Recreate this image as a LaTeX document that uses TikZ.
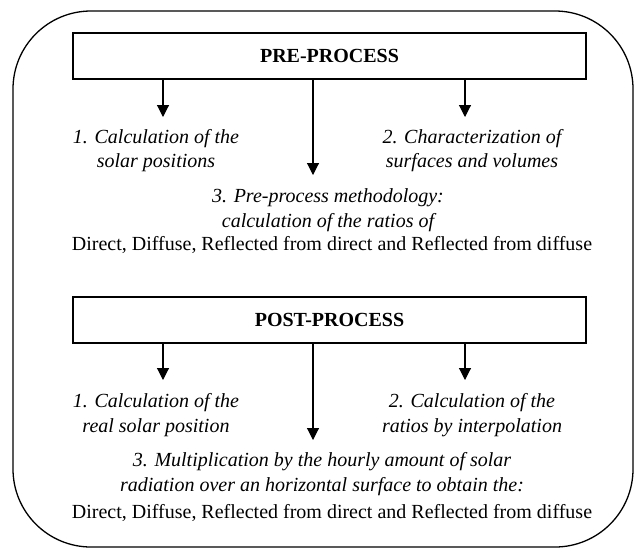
\documentclass[tikz,border=0pt]{standalone}
\usepackage{fontspec}
\setmainfont{Liberation Serif}
\usetikzlibrary{positioning,arrows.meta}

\begin{document}
\begin{tikzpicture}[x=1pt, y=-1pt,
    procbox/.style={draw, line width=1.6pt, minimum width=513pt, minimum height=46pt,
        font=\fontsize{20}{24}\selectfont\bfseries},
    itemtext/.style={align=center, inner sep=0pt, font=\fontsize{20}{24.5}\selectfont\itshape},
    ratiotext/.style={inner sep=0pt, font=\fontsize{20}{24}\selectfont},
    arr/.style={-{Triangle[width=12pt,length=12pt]}, line width=1.1pt}]

    \useasboundingbox (0,0) rectangle (635,550);

    % Outer frame
    \draw[line width=1.3pt, rounded corners=78pt] (13,11) rectangle (633,547);

    % Pre-process block
    \node[procbox] (pre) at (329.5,56) {PRE-PROCESS};
    \coordinate (preL) at (163,117);
    \coordinate (preM) at (313,175);
    \coordinate (preR) at (465,117);
    \draw[arr] (pre.south -| preL) -- (preL);
    \draw[arr] (pre.south -| preM) -- (preM);
    \draw[arr] (pre.south -| preR) -- (preR);

    \node[itemtext] (preOne) at (156,150.5) {1. Calculation of the\\solar positions};
    \node[itemtext] (preTwo) at (472,150.5) {2. Characterization of\\surfaces and volumes};
    \node[itemtext] (preThree) at (328,210) {3. Pre-process methodology:\\calculation of the ratios of};
    \node[ratiotext] (preRatio) at (332,245) {Direct, Diffuse, Reflected from direct and Reflected from diffuse};

    % Post-process block
    \node[procbox] (post) at (329.5,320) {POST-PROCESS};
    \coordinate (postL) at (163,380);
    \coordinate (postM) at (313,440);
    \coordinate (postR) at (465,380);
    \draw[arr] (post.south -| postL) -- (postL);
    \draw[arr] (post.south -| postM) -- (postM);
    \draw[arr] (post.south -| postR) -- (postR);

    \node[itemtext] (postOne) at (156,415) {1. Calculation of the\\real solar position};
    \node[itemtext] (postTwo) at (472,415) {2. Calculation of the\\ratios by interpolation};
    \node[itemtext] (postThree) at (322,474) {3. Multiplication by the hourly amount of solar\\radiation over an horizontal surface to obtain the:};
    \node[ratiotext] (postRatio) at (332,513) {Direct, Diffuse, Reflected from direct and Reflected from diffuse};

\end{tikzpicture}
\end{document}
